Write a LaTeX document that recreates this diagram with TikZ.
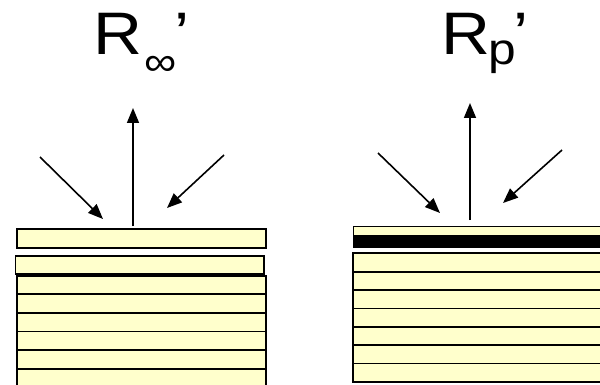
\documentclass[tikz,border=0pt]{standalone}
\usepackage{fontspec}
\setmainfont{Liberation Sans}
\usetikzlibrary{arrows.meta}
\definecolor{plate}{HTML}{FFFFCC}
% lowered subscript: #1 = drop, #2 = size, #3 = text
\newcommand{\lowsub}[3]{\raisebox{-#1}{\fontsize{#2}{#2}\selectfont #3}}
\newcommand{\wide}[1]{\scalebox{1.13}[1]{#1}}
\begin{document}
\begin{tikzpicture}[x=1pt,y=-1pt,
  layer/.style={fill=plate,draw=black,line width=1.7pt},
  ray/.style={line width=1.6pt,-{Triangle[length=15pt,width=12pt]}},
  lbl/.style={inner sep=0pt,anchor=base west,font=\fontsize{60}{60}\selectfont}]
\clip (0,0) rectangle (600,385);

% ---- left sample: thick stack of identical layers ----
\draw[layer] (17,229) rectangle (266,248);
\draw[layer] (15.5,256) rectangle (264,274);
\foreach \i in {0,...,5}
  \draw[layer] (17,{275.7+18.6*\i}) rectangle (266,{275.7+18.6*(\i+1)});

% ---- right sample: layers on a black backing ----
\draw[layer,line width=1pt] (353,226) rectangle (610,247);
\fill[black] (353,235) rectangle (610,247);
\foreach \i in {0,...,6}
  \draw[layer] (353.3,{253.3+18.35*\i}) rectangle (610,{253.3+18.35*(\i+1)});

% ---- rays ----
\coordinate (lbase) at (133,226);
\coordinate (ltop)  at (133,108);
\coordinate (lin1)  at (40,157);
\coordinate (lhit1) at (103,219);
\coordinate (lin2)  at (224,155);
\coordinate (lhit2) at (167,208);
\draw[ray] (lbase) -- (ltop);
\draw[ray] (lin1) -- (lhit1);
\draw[ray] (lin2) -- (lhit2);

\coordinate (rbase) at (470,220);
\coordinate (rtop)  at (470,103);
\coordinate (rin1)  at (378,153);
\coordinate (rhit1) at (440,213);
\coordinate (rin2)  at (562,150);
\coordinate (rhit2) at (503,203);
\draw[ray] (rbase) -- (rtop);
\draw[ray] (rin1) -- (rhit1);
\draw[ray] (rin2) -- (rhit2);

% ---- labels ----
\node[lbl] (rinf) at (92.8,55) {\wide{R\kern2.5pt\lowsub{21pt}{40}{∞}\kern-2pt’}};
\node[lbl] (rp)   at (440.8,55) {\wide{R\kern-1.5pt\lowsub{10pt}{44}{p}\kern-2pt’}};
\end{tikzpicture}
\end{document}
